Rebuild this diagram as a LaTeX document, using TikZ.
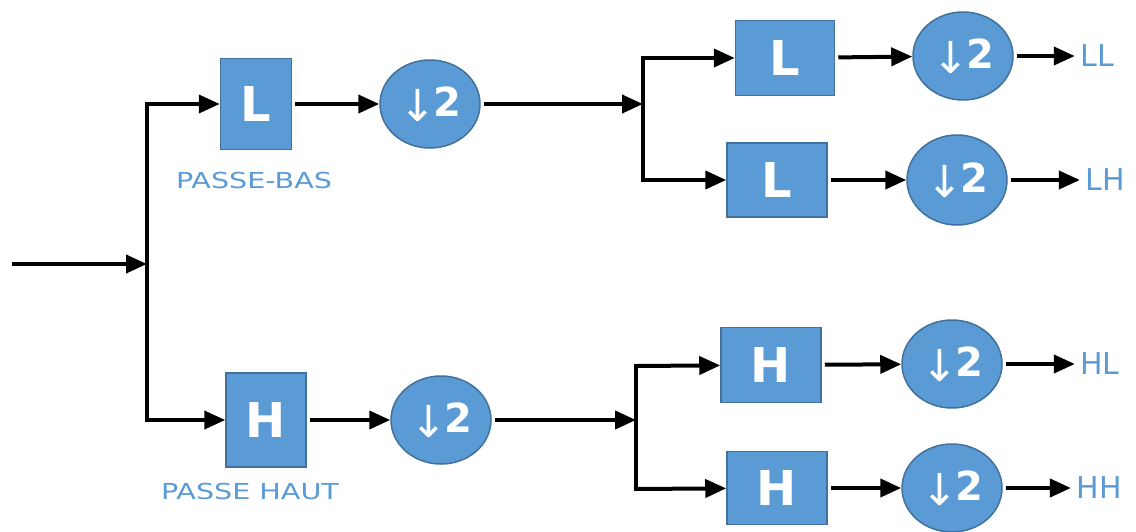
\documentclass[tikz,border=0pt]{standalone}
\usepackage{fontspec}
\setmainfont{DejaVu Sans}
\usetikzlibrary{arrows.meta,shapes.geometric}
\definecolor{blockblue}{HTML}{5B9BD5}
\definecolor{rimblue}{HTML}{41719C}
\def\dsamp{{\mdseries\fontsize{44}{44}\selectfont\raisebox{-5pt}{↓}}\kern-3pt 2}
\def\wide#1{\scalebox{1.3}[1]{#1}}
\tikzset{
    filt/.style={draw=rimblue,fill=blockblue,line width=1.5pt,text=white,
        font=\bfseries\fontsize{48}{48}\selectfont,inner sep=0pt},
    dec/.style={ellipse,draw=rimblue,fill=blockblue,line width=1.5pt,text=white,
        minimum width=100pt,minimum height=88pt,inner sep=0pt,
        font=\bfseries\fontsize{40}{40}\selectfont},
    band/.style={text=blockblue,font=\fontsize{30}{30}\selectfont},
    kind/.style={text=blockblue,font=\fontsize{22}{22}\selectfont},
    wire/.style={line width=4pt},
    flow/.style={wire,-{Triangle[length=21pt,width=18pt]}},
}

\begin{document}
\begin{tikzpicture}[x=1pt,y=-1pt]
    \useasboundingbox (0,0) rectangle (1136,531);
    % first level
    \coordinate (in) at (12,264);
    \coordinate (s0) at (147,264);
    \coordinate (s0up) at (147,104);
    \coordinate (s0dn) at (147,420);
    \node[filt,minimum width=71pt,minimum height=91pt] (L) at (256,104) {L};
    \node[dec] (dL) at (430,104) {\dsamp};
    \node[filt,minimum width=80pt,minimum height=94pt] (H) at (266,420) {H};
    \node[dec] (dH) at (441,420) {\dsamp};
    \node[kind] (lowlbl) at (254,180) {\wide{PASSE-BAS}};
    \node[kind] (highlbl) at (250,491) {\wide{PASSE HAUT}};
    % second level, low branch
    \coordinate (s1) at (643,104);
    \coordinate (s1up) at (643,58);
    \coordinate (s1dn) at (643,180);
    \node[filt,minimum width=99pt,minimum height=75pt] (LL) at (785,58) {L};
    \node[dec] (dLL) at (963,56) {\dsamp};
    \node[band] (oLL) at (1097,56) {LL};
    \node[filt,minimum width=100pt,minimum height=74pt] (LH) at (777,180) {L};
    \node[dec,minimum height=90pt] (dLH) at (957,180) {\dsamp};
    \node[band] (oLH) at (1105,180) {LH};
    % second level, high branch
    \coordinate (s2) at (636,420);
    \coordinate (s2up) at (636,366);
    \coordinate (s2dn) at (636,489);
    \node[filt,minimum width=100pt,minimum height=75pt] (HL) at (771,365) {H};
    \node[dec] (dHL) at (952,364) {\dsamp};
    \node[band] (oHL) at (1100,364) {HL};
    \node[filt,minimum width=100pt,minimum height=73pt] (HH) at (777,488) {H};
    \node[dec] (dHH) at (952,488) {\dsamp};
    \node[band] (oHH) at (1099,488) {HH};

    \draw[flow] (in) -- (s0);
    \draw[wire,line cap=rect] (s0up) -- (s0dn);
    \draw[flow] (s0up) -- (L);
    \draw[flow] (s0dn) -- (H);
    \draw[flow,shorten <=3pt] (L) -- (dL);
    \draw[flow,shorten <=3pt] (H) -- (dH);
    \draw[flow,shorten <=3pt] (dL) -- (s1);
    \draw[flow,shorten <=3pt] (dH) -- (s2);
    \draw[wire,line cap=rect] (s1up) -- (s1dn);
    \draw[wire,line cap=rect] (s2up) -- (s2dn);
    \foreach \a/\b/\c/\d in {s1up/LL/dLL/oLL, s1dn/LH/dLH/oLH,
                             s2up/HL/dHL/oHL, s2dn/HH/dHH/oHH} {
        \draw[flow] (\a) -- (\b);
        \draw[flow,shorten <=3pt] (\b) -- (\c);
        \draw[flow,shorten <=3pt,shorten >=2pt] (\c) -- (\d);
    }
\end{tikzpicture}
\end{document}
